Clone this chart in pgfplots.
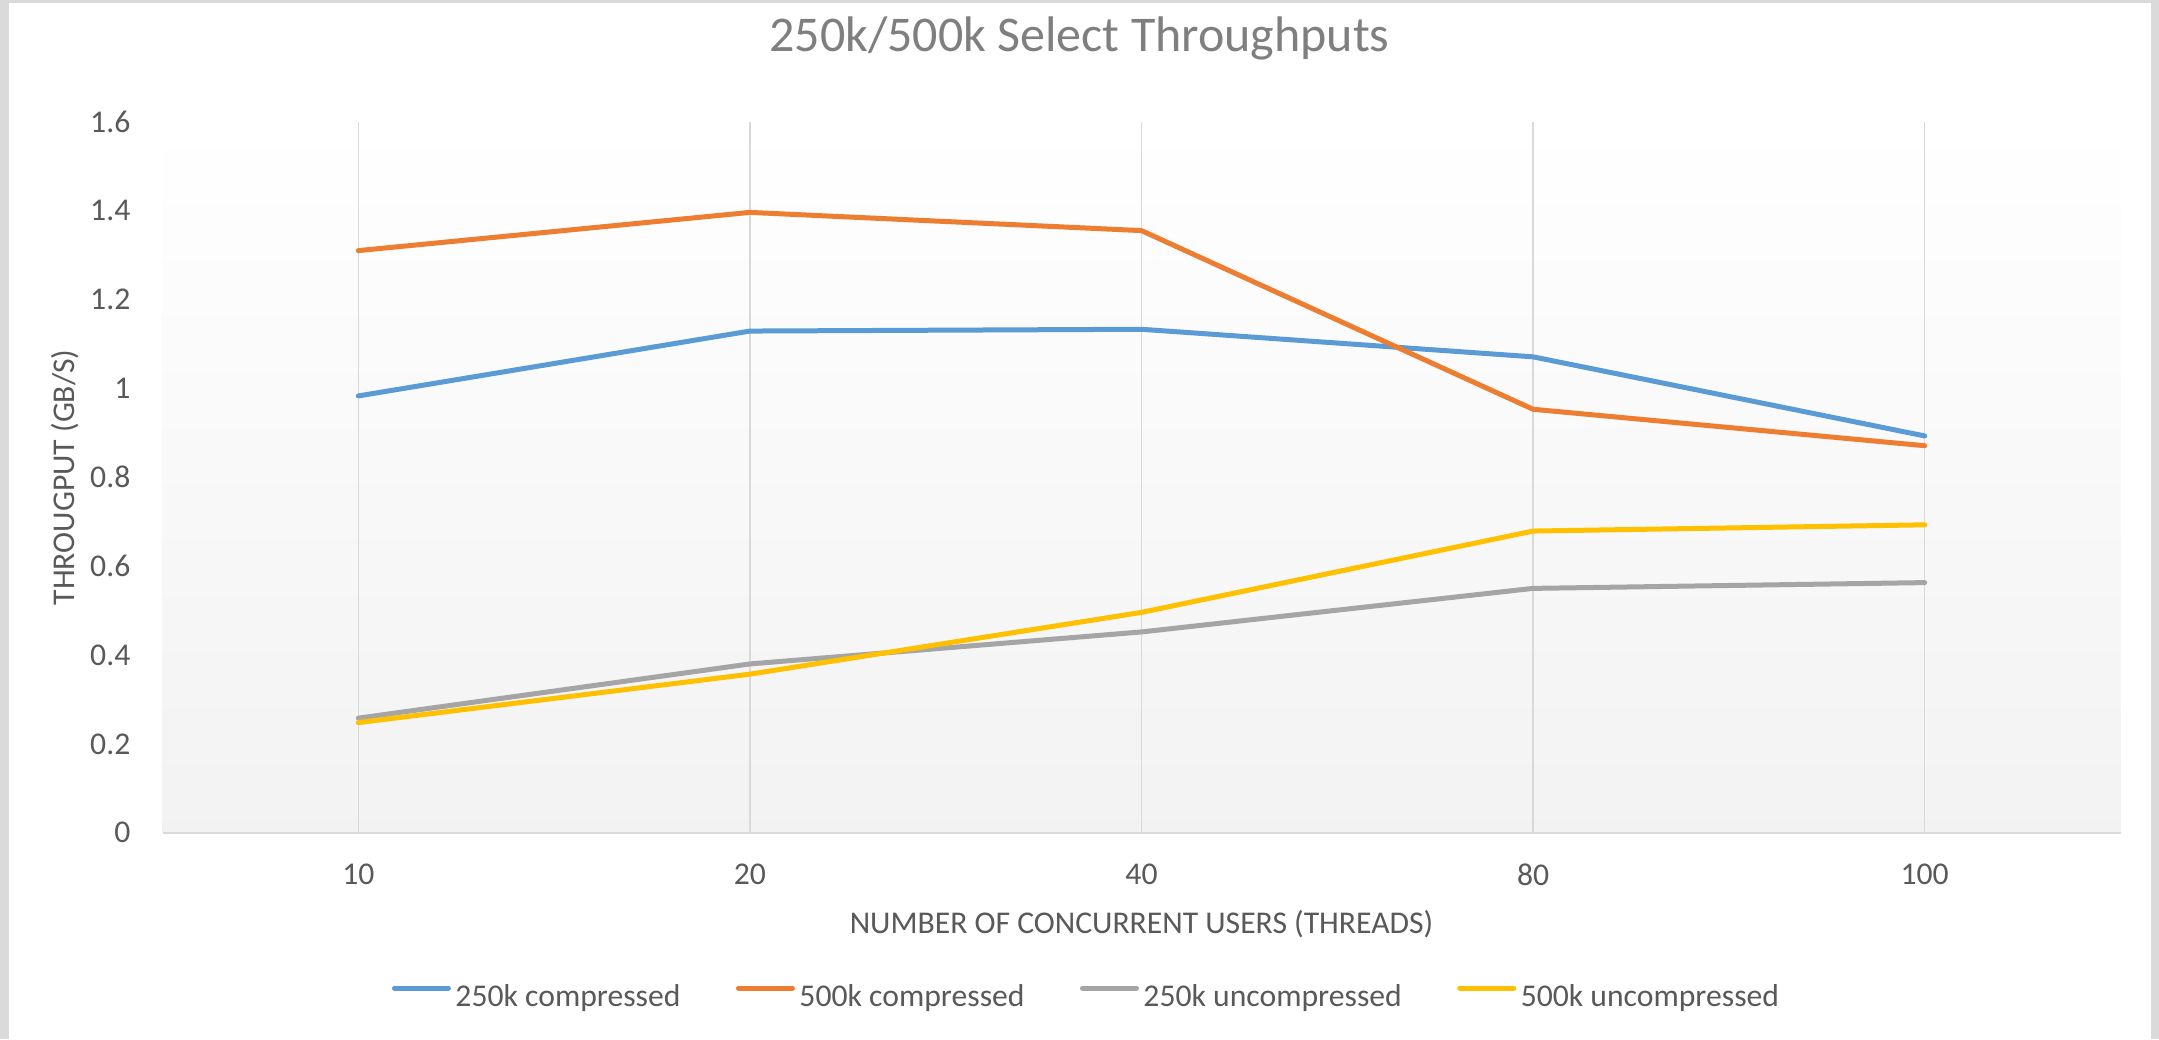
\documentclass[border=0pt]{standalone}
\usepackage{pgfplots}
\pgfplotsset{compat=1.18}
\usepackage{fontspec}
\setmainfont{Carlito}
\definecolor{c1}{HTML}{5B9BD5}
\definecolor{c2}{HTML}{ED7D31}
\definecolor{c3}{HTML}{A5A5A5}
\definecolor{c4}{HTML}{FFC000}
\definecolor{txt}{HTML}{595959}
\definecolor{ttl}{HTML}{7F7F7F}
\definecolor{gridc}{HTML}{D9D9D9}
\definecolor{framec}{HTML}{DADADA}
\begin{document}
\begin{tikzpicture}
\path[use as bounding box] (0,0) rectangle (647.7pt,-311.7pt);
\fill[white] (0,0) rectangle (647.7pt,-311.7pt);
\fill[framec] (0,0) rectangle (2.7pt,-311.7pt);
\fill[framec] (0,0) rectangle (647.7pt,-0.9pt);
\fill[framec] (645.15pt,0) rectangle (647.7pt,-311.7pt);
\begin{axis}[
  at={(48.75pt,-249.84pt)}, anchor=south west,
  scale only axis, width=587.4pt, height=213.33pt,
  xmin=-0.5, xmax=4.5, ymin=0, ymax=1.6,
  xtick={0,1,2,3,4}, xticklabels={10,20,40,80,100},
  ytick={0,0.2,0.4,0.6,0.8,1,1.2,1.4,1.6},
  yticklabels={0,0.2,0.4,0.6,0.8,1,1.2,1.4,1.6},
  axis x line=bottom, axis y line=left,
  y axis line style={draw=none},
  x axis line style={draw=gridc, line width=0.5pt, -},
  major tick length=0pt,
  xmajorgrids, grid style={draw=gridc, line width=0.45pt},
  tick label style={font=\fontsize{9.5}{11}\selectfont, text=txt},
  xticklabel style={anchor=north, inner sep=0pt, yshift=-9.15pt},
  yticklabel style={anchor=east, inner sep=0pt, xshift=-9.45pt},
  axis background/.style={top color=white, bottom color=black!5},
  title={250k/500k Select Throughputs},
  title style={at={(axis description cs:0.4683,1.0703)}, anchor=base, font=\fontsize{15}{18}\selectfont, text=ttl, inner sep=0pt},
  xlabel={NUMBER OF CONCURRENT USERS (THREADS)},
  xlabel style={at={(axis description cs:0.5,-0.1413)}, anchor=base, font=\fontsize{9.5}{11}\selectfont, text=txt, inner sep=0pt},
  ylabel={THROUGPUT (GB/S)},
  ylabel style={at={(axis description cs:-0.04469,0.5)}, anchor=base, font=\fontsize{9.5}{11}\selectfont, text=txt, inner sep=0pt},
  legend columns=4,
  legend style={at={(axis description cs:0.4714,-0.2323)}, anchor=center, draw=none, fill=none,
    font=\fontsize{9.5}{11}\selectfont, text=txt, inner sep=0pt, nodes={inner sep=0pt},
    /tikz/every odd column/.append style={column sep=1.35pt},
    /tikz/every even column/.append style={column sep=16.65pt}},
  legend image code/.code={\draw[#1, line cap=round] (0pt,3pt) -- (16.2pt,3pt);},
  every axis plot/.append style={line width=1.5pt, line cap=round, line join=round},
  no markers,
]
\addplot[c1] coordinates {(0,0.983)(1,1.129)(2,1.133)(3,1.071)(4,0.893)};
\addlegendentry{250k compressed}
\addplot[c2] coordinates {(0,1.310)(1,1.396)(2,1.355)(3,0.953)(4,0.871)};
\addlegendentry{500k compressed}
\addplot[c3] coordinates {(0,0.258)(1,0.380)(2,0.452)(3,0.550)(4,0.563)};
\addlegendentry{250k uncompressed}
\addplot[c4] coordinates {(0,0.248)(1,0.357)(2,0.496)(3,0.679)(4,0.693)};
\addlegendentry{500k uncompressed}
\end{axis}
\end{tikzpicture}
\end{document}
